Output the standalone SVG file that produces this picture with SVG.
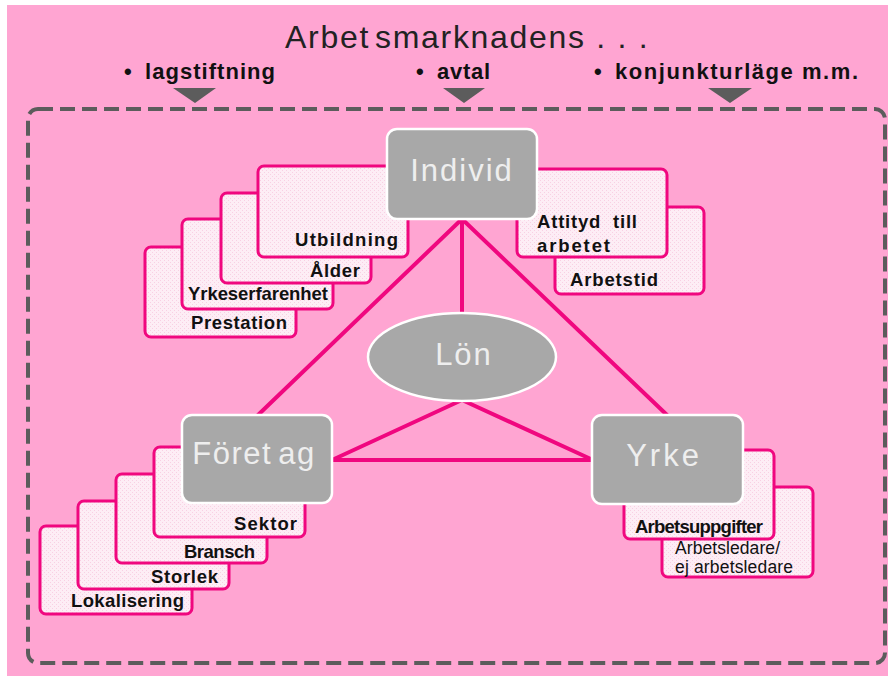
<svg xmlns="http://www.w3.org/2000/svg" width="888" height="677" viewBox="0 0 888 677">
<defs>
<pattern id="dots" width="4" height="4" patternUnits="userSpaceOnUse">
<rect width="4" height="4" fill="#FDEDF5"/>
<rect x="0" y="0" width="1" height="1" fill="#F8D0E3"/>
<rect x="2" y="2" width="1" height="1" fill="#F8D0E3"/>
</pattern>
<style>
.card{fill:url(#dots);stroke:#F0077F;stroke-width:3}
.ct{font-family:"Liberation Sans",Arial,sans-serif;font-size:18.5px;font-weight:bold;fill:#111}
.cr{font-family:"Liberation Sans",Arial,sans-serif;font-size:17.5px;fill:#111}
.box{fill:#A8A8A8;stroke:#FFFFFF;stroke-width:2.5}
.bt{font-family:"Liberation Sans",Arial,sans-serif;font-size:31px;fill:#EEEEEE;text-anchor:middle}
.hd{font-family:"Liberation Sans",Arial,sans-serif;font-size:22px;font-weight:bold;fill:#111}
.tri{fill:#5C5C5C}
.conn{stroke:#F0077F;stroke-width:4;fill:none;stroke-linecap:round}
</style>
</defs>
<rect x="0" y="0" width="888" height="677" fill="#FFFFFF"/>
<rect x="7" y="5" width="881" height="671" fill="#FFA5D2"/>

<g id="header">
<text x="285" y="48" font-family="Liberation Sans, Arial, sans-serif" font-size="32" fill="#222" letter-spacing="1.7"><tspan>Arbet</tspan><tspan dx="5">smarknadens . . .</tspan></text>
<text class="hd"><tspan x="124" y="79">• </tspan><tspan x="145" y="79" textLength="130">lagstiftning</tspan></text>
<text class="hd"><tspan x="416" y="79">• </tspan><tspan x="437" y="79" textLength="53">avtal</tspan></text>
<text class="hd"><tspan x="594" y="79">• </tspan><tspan x="615" y="79" textLength="243">konjunkturläge m.m.</tspan></text>
<polygon class="tri" points="173,88 216,88 195,103"/>
<polygon class="tri" points="443,88 485,88 464,103"/>
<polygon class="tri" points="708,88 752,88 730,103"/>
</g>

<rect id="frame" x="28" y="109" width="857" height="554" rx="10" fill="none" stroke="#5C5C5C" stroke-width="4" stroke-dasharray="15 7"/>

<g id="connectors">
<line class="conn" x1="462" y1="219" x2="258" y2="415"/>
<line class="conn" x1="462" y1="219" x2="667" y2="415"/>
<line class="conn" x1="462" y1="219" x2="462" y2="315"/>
<line class="conn" x1="462" y1="400" x2="332" y2="460"/>
<line class="conn" x1="462" y1="400" x2="593" y2="460"/>
<line class="conn" x1="332" y1="460" x2="593" y2="460"/>
</g>

<g id="individ-cards-left">
<rect class="card" x="145" y="247" width="151" height="90" rx="6"/>
<text class="ct" x="191" y="329" textLength="96">Prestation</text>
<rect class="card" x="182" y="219" width="151" height="90" rx="6"/>
<text class="ct" x="188" y="300" textLength="140">Yrkeserfarenhet</text>
<rect class="card" x="221" y="193" width="150" height="90" rx="6"/>
<text class="ct" x="310" y="277" textLength="50">Ålder</text>
<rect class="card" x="258" y="166" width="150" height="91" rx="6"/>
<text class="ct" x="295" y="246" textLength="103">Utbildning</text>
</g>

<g id="individ-cards-right">
<rect class="card" x="555" y="207" width="149" height="87" rx="6"/>
<text class="ct" x="570" y="286" textLength="88">Arbetstid</text>
<rect class="card" x="517" y="169" width="150" height="88" rx="6"/>
<text class="ct" x="537" y="228" textLength="100" xml:space="preserve">Attityd  till</text>
<text class="ct" x="537" y="252" textLength="73">arbetet</text>
</g>

<g id="individ">
<rect class="box" x="387" y="129" width="150" height="90" rx="10"/>
<text class="bt" x="462" y="181" letter-spacing="2">Individ</text>
</g>

<g id="lon">
<ellipse cx="462" cy="357" rx="94" ry="44" fill="#A8A8A8" stroke="#FFFFFF" stroke-width="2.5"/>
<text class="bt" x="464" y="365" letter-spacing="2">Lön</text>
</g>

<g id="foretag-cards">
<rect class="card" x="40" y="526" width="152" height="88" rx="6"/>
<text class="ct" x="71" y="607" textLength="113">Lokalisering</text>
<rect class="card" x="78" y="501" width="151" height="88" rx="6"/>
<text class="ct" x="151" y="583" textLength="67">Storlek</text>
<rect class="card" x="116" y="474" width="151" height="89" rx="6"/>
<text class="ct" x="184" y="558" textLength="71">Bransch</text>
<rect class="card" x="154" y="447" width="151" height="90" rx="6"/>
<text class="ct" x="234" y="530" textLength="63">Sektor</text>
</g>

<g id="foretag">
<rect class="box" x="182" y="415" width="150" height="88" rx="10"/>
<text class="bt" x="254" y="464" letter-spacing="1.5"><tspan>Föret</tspan><tspan dx="6">ag</tspan></text>
</g>

<g id="yrke-cards">
<rect class="card" x="662" y="487" width="151" height="90" rx="6"/>
<text class="cr" x="675" y="554" textLength="105">Arbetsledare/</text>
<text class="cr" x="675" y="573" textLength="118">ej arbetsledare</text>
<rect class="card" x="624" y="450" width="150" height="89" rx="6"/>
<text class="ct" x="635" y="533" textLength="128">Arbetsuppgifter</text>
</g>

<g id="yrke">
<rect class="box" x="592" y="415" width="151" height="89" rx="10"/>
<text class="bt" x="664" y="466" letter-spacing="3">Yrke</text>
</g>
</svg>
